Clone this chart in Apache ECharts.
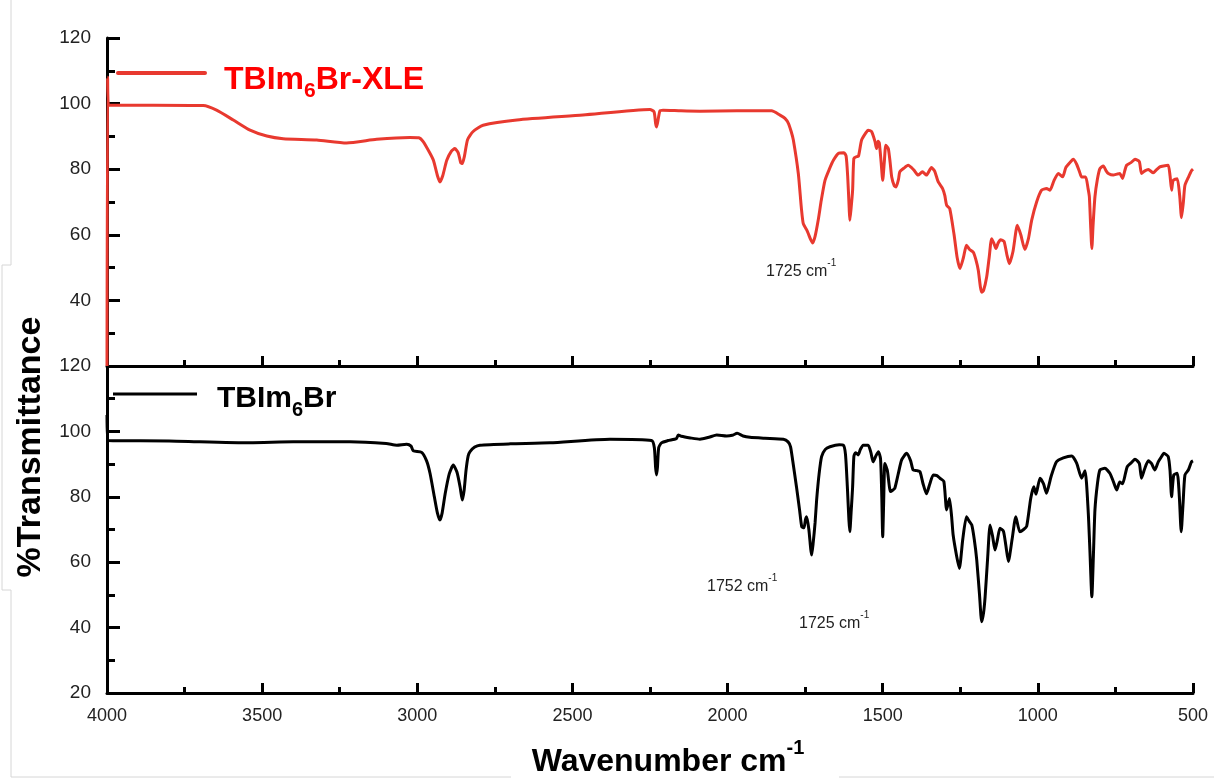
<!DOCTYPE html>
<html>
<head>
<meta charset="utf-8">
<script src="https://cdn.jsdelivr.net/npm/echarts@6/dist/echarts.min.js"></script>
<style>
html,body{margin:0;padding:0;background:#fff;}
#chart{width:1214px;height:780px;}
</style>
</head>
<body>
<div id="chart"></div>
<script>
// ---- data (wavenumber cm-1, %T) ----
const seriesNames = ['TBIm6Br-XLE', 'TBIm6Br'];
const xleSpectrum = [[4000,20],[3998,108],[3995,99.5],[3850,99.5],[3690,99.4],[3647,98],[3593,95],[3539,91.9],[3485,90.1],[3432,89.3],[3324,88.9],[3228,88],[3131,89.1],[3024,89.7],[2995,89.6],[2981,88.4],[2960,85],[2948,82.7],[2935,78],[2927,76.1],[2918,78],[2905,82.7],[2890,85.5],[2879,86.3],[2868,85],[2860,82],[2855,81.7],[2848,84],[2838,89],[2820,91.5],[2788,93.4],[2679,95],[2466,96.5],[2250,98.2],[2237,97.5],[2232,94],[2229,92.9],[2225,94.5],[2218,97.8],[2208,98],[2150,97.8],[2089,97.7],[1970,97.8],[1858,97.8],[1831,96.5],[1815,95.5],[1804,94],[1795,91.5],[1788,88.9],[1772,78.7],[1762,68],[1756,63.4],[1745,61.5],[1740,60.4],[1732,58.5],[1726,57.5],[1718,59.5],[1708,64.4],[1698,70.5],[1686,76.6],[1672,80],[1659,82.7],[1643,84.8],[1625,85],[1618,84],[1613,78],[1608,68],[1606,64.4],[1602,68],[1597,73.6],[1593,83.3],[1584,83.8],[1578,84],[1568,88.9],[1555,91],[1547,91.9],[1536,91.5],[1525,88.5],[1520,86.3],[1515,88.5],[1511,88],[1505,82],[1500,76.6],[1495,82],[1490,87.3],[1482,86.3],[1476,82],[1471,77.6],[1463,75],[1457,74.6],[1449,77],[1445,79.2],[1432,80.3],[1418,81.2],[1400,79.8],[1386,78.2],[1372,79.2],[1359,78.2],[1343,80.5],[1333,79.5],[1321,76.1],[1307,74.1],[1300,72],[1294,69],[1284,68],[1270,60],[1260,53],[1251,49.7],[1240,53],[1230,56.8],[1220,55.5],[1208,54.7],[1200,52.5],[1192,49.2],[1185,44],[1181,42.5],[1175,43],[1165,47.1],[1157,53],[1149,58.8],[1142,57.5],[1135,55.8],[1128,57.5],[1120,58.5],[1109,58],[1100,54],[1092,51.2],[1080,55],[1066,62.9],[1055,60],[1042,55.5],[1030,59],[1020,64.4],[1004,70],[988,73.6],[972,74.1],[961,73.6],[948,76.5],[934,78.7],[920,77.7],[910,80.5],[897,82],[886,83],[875,81.5],[865,79],[859,77.6],[846,77.6],[838,74],[834,71.6],[830,63],[826,55.8],[822,63],[816,71.6],[808,77],[800,80.2],[789,81],[780,79.5],[773,78.7],[757,78.2],[745,78.5],[736,78.7],[727,77.2],[720,79.5],[714,81.2],[700,82],[687,83],[673,82.3],[666,78.7],[655,79.5],[644,79.9],[628,78.9],[618,79.8],[607,80.7],[595,81],[580,81.2],[574,78],[569,73.6],[564,76.6],[551,77.1],[543,72],[537,65.2],[531,70],[526,75.1],[515,77.5],[505,79.5],[500,80]];
const baseSpectrum = [[4000,105],[3997,97.2],[3800,97.1],[3539,96.5],[3400,96.8],[3217,96.8],[3100,96.3],[3066,95.8],[3034,96.1],[3020,95.5],[3013,94.1],[2986,93.6],[2970,91],[2959,87.2],[2945,80],[2935,75],[2927,72.9],[2920,75],[2910,81],[2897,87],[2884,89.7],[2872,87.5],[2862,83],[2855,79],[2849,82],[2843,88],[2836,92.5],[2830,93.8],[2815,95.2],[2798,95.8],[2700,96.2],[2572,96.5],[2379,97.6],[2245,97.2],[2236,95],[2232,89],[2229,86.7],[2226,89],[2222,95],[2213,96.5],[2192,97.2],[2165,97.8],[2159,98.9],[2149,98.5],[2120,98],[2089,97.6],[2060,98.2],[2035,98.9],[2003,98.6],[1985,98.8],[1969,99.4],[1950,98.6],[1928,98.2],[1880,97.9],[1820,97.6],[1805,96.8],[1797,95.3],[1790,91],[1778,83.1],[1768,76],[1761,70.9],[1754,70.5],[1749,73],[1745,73.9],[1738,70],[1732,64],[1729,62.2],[1724,66],[1718,72],[1713,79],[1705,87],[1697,92.3],[1685,94.5],[1670,95.3],[1640,95.9],[1627,95.8],[1620,93],[1614,83.1],[1609,73],[1606,69.3],[1602,75],[1597,83],[1593,92.3],[1588,93.5],[1584,93.3],[1579,92.8],[1572,94.5],[1563,95.8],[1547,95.8],[1538,93.5],[1531,90.7],[1522,92.5],[1514,93.8],[1507,91.6],[1503,80],[1500,67.8],[1497,78],[1493,90.2],[1485,88],[1475,81.6],[1468,82],[1461,82.6],[1450,87],[1439,91.3],[1423,93.3],[1410,91],[1402,88.2],[1390,88],[1380,87.7],[1370,84],[1359,80.9],[1348,84],[1337,86.7],[1325,86.5],[1316,85.7],[1303,84.7],[1294,76],[1285,79.5],[1278,74],[1273,68.3],[1262,62],[1253,58.1],[1242,67],[1230,73.9],[1221,72.5],[1213,71.4],[1205,67],[1197,60.7],[1188,50],[1181,41.8],[1175,44.5],[1170,49.4],[1162,61],[1154,71.4],[1146,68],[1138,63.7],[1130,67],[1122,70.4],[1111,69.5],[1103,65],[1095,60.2],[1083,67],[1071,73.9],[1058,69.3],[1046,70],[1036,71],[1023,79.5],[1013,83.1],[1006,80.8],[993,85.7],[982,84],[972,81.1],[958,86],[940,90.7],[918,91.9],[891,92.5],[875,90.3],[859,85.7],[848,88],[838,76],[832,63],[826,49.4],[821,62],[816,76],[808,84],[800,88.2],[784,88.7],[768,87.2],[756,84.5],[746,82.1],[736,84.5],[727,84],[718,87],[712,89.2],[700,90.3],[687,91.5],[673,90.2],[666,85.7],[656,88.5],[644,91],[634,90.2],[623,88.2],[612,90.7],[600,92.5],[594,93.3],[580,92.3],[574,88],[569,80],[562,86.7],[551,87.2],[544,80],[538,69.3],[532,78],[526,86.7],[515,88.2],[505,90.7],[500,91]];
const xRange = {min: 500, max: 4000, interval: 500};
const yRange = {min: 20, max: 120, interval: 20};
const annotations = ['1725', '1752', '1725'];

const FONT = "'Liberation Sans', Arial, sans-serif";
const RED = '#e8392f';
const chart = echarts.init(document.getElementById('chart'), null, {renderer: 'canvas'});

function xAxisCfg(gridIndex, showLabel) {
  return {
    type: 'value', gridIndex: gridIndex, inverse: true,
    min: xRange.min, max: xRange.max, interval: xRange.interval,
    axisLine: {show: true, onZero: false, lineStyle: {color: '#000', width: 3}},
    axisTick: {show: true, inside: true, length: 10, lineStyle: {color: '#000', width: 3}},
    minorTick: {show: true, splitNumber: 2, length: 6, lineStyle: {color: '#000', width: 3}},
    splitLine: {show: false},
    axisLabel: {show: showLabel, margin: 14, fontSize: 18, color: '#222', fontFamily: FONT,
      formatter: function (v) { return String(v); }}
  };
}
function yAxisCfg(gridIndex, hideMin) {
  return {
    type: 'value', gridIndex: gridIndex,
    min: yRange.min, max: yRange.max, interval: yRange.interval,
    axisLine: {show: true, lineStyle: {color: '#000', width: 3}},
    axisTick: {show: true, inside: true, length: 13, lineStyle: {color: '#000', width: 3}},
    minorTick: {show: true, splitNumber: 2, length: 8, lineStyle: {color: '#000', width: 3}},
    splitLine: {show: false},
    axisLabel: {margin: 16, fontSize: 19, color: '#222', fontFamily: FONT,
      formatter: function (v) { return (hideMin && v === yRange.min) ? '' : String(v); }}
  };
}
function supText(x, y, num, size) {
  return {
    type: 'text', x: x, y: y, z: 10,
    style: {
      text: '{m|' + num + ' cm}{s|-1}',
      align: 'left', verticalAlign: 'middle',
      rich: {
        m: {fontSize: size, lineHeight: size, fontFamily: FONT, fill: '#222', verticalAlign: 'top', padding: [Math.round(size * 0.35), 0, 0, 0]},
        s: {fontSize: Math.round(size * 0.65), lineHeight: Math.round(size * 0.65), fontFamily: FONT, fill: '#222', verticalAlign: 'top'}
      }
    }
  };
}
function subLegend(x, y, pre, sub, post, color, size) {
  const ss = Math.round(size * 0.66);
  return {
    type: 'text', x: x, y: y, z: 10,
    style: {
      text: '{m|' + pre + '}{s|' + sub + '}{m|' + post + '}',
      align: 'left', verticalAlign: 'middle',
      rich: {
        m: {fontSize: size, lineHeight: size, fontWeight: 'bold', fontFamily: FONT, fill: color, verticalAlign: 'top'},
        s: {fontSize: ss, lineHeight: ss, fontWeight: 'bold', fontFamily: FONT, fill: color, verticalAlign: 'top', padding: [Math.round(size * 0.53), 0, 0, 0]}
      }
    }
  };
}

const option = {
  backgroundColor: '#fff',
  animation: false,
  grid: [
    {left: 107, top: 38, width: 1086, height: 328, containLabel: false},
    {left: 107, top: 366, width: 1086, height: 327, containLabel: false}
  ],
  xAxis: [xAxisCfg(0, false), xAxisCfg(1, true)],
  yAxis: [yAxisCfg(0, true), yAxisCfg(1, false)],
  series: [
    {name: seriesNames[0], type: 'line', xAxisIndex: 0, yAxisIndex: 0, data: xleSpectrum,
     showSymbol: false, smooth: 0.2, lineStyle: {color: RED, width: 3}, itemStyle: {color: RED}, z: 3},
    {name: seriesNames[1], type: 'line', xAxisIndex: 1, yAxisIndex: 1, data: baseSpectrum,
     showSymbol: false, smooth: 0.2, lineStyle: {color: '#000', width: 3}, itemStyle: {color: '#000'}, z: 3}
  ],
  graphic: [
    // faint frame remnants
    {type: 'polyline', shape: {points: [[11,0],[11,265],[2,265],[2,590],[11,590],[11,777],[511,777]]}, style: {stroke: '#d6d6d6', lineWidth: 1, fill: null}},
    {type: 'line', shape: {x1: 839, y1: 777, x2: 1214, y2: 777}, style: {stroke: '#d6d6d6', lineWidth: 1}},
    // legends
    {type: 'line', shape: {x1: 118, y1: 73, x2: 205, y2: 73}, style: {stroke: RED, lineWidth: 4, lineCap: 'round'}, z: 10},
    subLegend(224, 80, 'TBIm', '6', 'Br-XLE', '#ff0000', 32),
    {type: 'line', shape: {x1: 113, y1: 394, x2: 197, y2: 394}, style: {stroke: '#000', lineWidth: 3}, z: 10},
    subLegend(217, 399, 'TBIm', '6', 'Br', '#000', 30),
    // annotations
    supText(766, 266, annotations[0], 16),
    supText(707, 581, annotations[1], 16),
    supText(799, 618, annotations[2], 16),
    // axis titles
    {type: 'text', x: 668, y: 754, z: 10, style: {
      text: '{m|Wavenumber cm}{s|-1}', align: 'center', verticalAlign: 'middle',
      rich: {
        m: {fontSize: 32, lineHeight: 32, fontWeight: 'bold', fontFamily: FONT, fill: '#000', verticalAlign: 'top', padding: [8, 0, 0, 0]},
        s: {fontSize: 20, lineHeight: 20, fontWeight: 'bold', fontFamily: FONT, fill: '#000', verticalAlign: 'top'}
      }}},
    {type: 'text', x: 31, y: 447, rotation: Math.PI / 2, z: 10, style: {
      text: '%Transmittance', align: 'center', verticalAlign: 'middle',
      fontSize: 34, fontWeight: 'bold', fontFamily: FONT, fill: '#000'}}
  ]
};
chart.setOption(option);
</script>
</body>
</html>
